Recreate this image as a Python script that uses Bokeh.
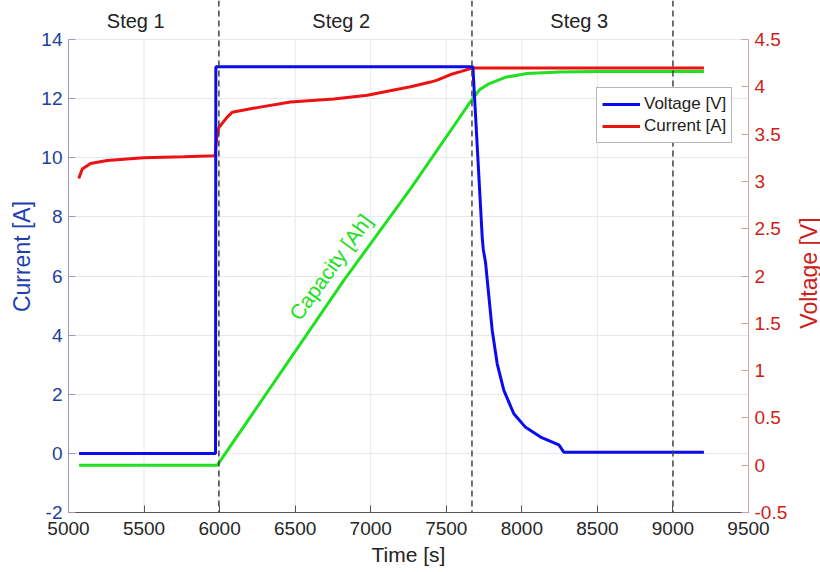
import math
from bokeh.plotting import figure
from bokeh.layouts import row
from bokeh.models import (Range1d, LinearAxis, FixedTicker, Span, Label, Legend,
                          LegendItem)
from bokeh.core.properties import value
from bokeh.embed import file_html
from bokeh.resources import INLINE

# ---------------- data ----------------
t_blue = [5070, 5973, 5975, 7676, 7738, 7745, 7760, 7782, 7804, 7837, 7881, 7947,
          8025, 8124, 8245, 8278, 9205]
y_blue = [0.0, 0.0, 13.08, 13.08, 7.3, 6.9, 6.45, 5.3, 4.16, 3.03, 2.13, 1.34,
          0.88, 0.55, 0.29, 0.04, 0.04]

t_red = [5068, 5091, 5146, 5256, 5498, 5763, 5970, 5980, 5995, 6050, 6083, 6249,
         6469, 6756, 6977, 7263, 7396, 7440, 7484, 7528, 7594, 7678, 9205]
v_red = [3.03, 3.13, 3.19, 3.22, 3.25, 3.26, 3.27, 3.45, 3.57, 3.68, 3.73, 3.78,
         3.84, 3.87, 3.91, 4.00, 4.05, 4.07, 4.10, 4.13, 4.16, 4.20, 4.20]

t_green = [5070, 5985, 6822, 7263, 7560, 7660, 7720, 7782, 7890, 8035, 8250, 8500, 9205]
c_green = [-0.4, -0.4, 5.85, 8.95, 11.15, 11.9, 12.3, 12.5, 12.72, 12.85, 12.9, 12.92, 12.92]

step_times = [5995, 7670, 9000]
step_names = ["Steg 1", "Steg 2", "Steg 3"]
step_label_x = [5445, 6805, 8380]

x_ticks = [5000, 5500, 6000, 6500, 7000, 7500, 8000, 8500, 9000, 9500]
left_ticks = [-2, 0, 2, 4, 6, 8, 10, 12, 14]
left_tick_labels = ["-2", "0", "2", "4", "6", "8", "10", "12", "14"]
right_ticks = [-0.5, 0, 0.5, 1, 1.5, 2, 2.5, 3, 3.5, 4, 4.5]
right_tick_labels = ["-0.5", "0", "0.5", "1", "1.5", "2", "2.5", "3", "3.5", "4", "4.5"]

# ---------------- figure ----------------
FONT = "Liberation Sans"
Y_TOP = 14 + 39 / 29.56           # frame extends above 14 into header area
V_TOP = 4.5 + (Y_TOP - 14) / 3.2

p = figure(width=790, height=572, x_range=Range1d(5000, 9500),
           y_range=Range1d(-2, Y_TOP), output_backend="svg",
           toolbar_location=None, min_border_left=68, min_border_right=42,
           min_border_top=0, min_border_bottom=60)
p.extra_y_ranges = {"v": Range1d(-0.5, V_TOP)}
p.outline_line_color = None
p.background_fill_color = "white"
p.border_fill_color = "white"

# grid: x lines drawn only between -2 and 14
p.xgrid.visible = False
p.segment(x0=x_ticks, y0=[-2] * len(x_ticks), x1=x_ticks, y1=[14] * len(x_ticks),
          line_color="#e3e9ee", line_width=1)
p.ygrid.ticker = FixedTicker(ticks=left_ticks)
p.ygrid.grid_line_color = "#e3e9ee"
p.ygrid.grid_line_width = 1

# x axis
xa = p.xaxis[0]
xa.ticker = FixedTicker(ticks=x_ticks)
xa.axis_label = "Time [s]"
xa.axis_label_text_font = FONT
xa.axis_label_text_font_size = "21px"
xa.axis_label_text_font_style = "normal"
xa.axis_label_text_color = "#222222"
xa.axis_label_standoff = 5
xa.major_label_text_font = FONT
xa.major_label_text_font_size = "19px"
xa.major_label_text_color = "#262626"
xa.major_label_standoff = 9
xa.axis_line_color = "#555555"
xa.major_tick_line_color = "#555555"
xa.major_tick_in = 7
xa.major_tick_out = 0
xa.minor_tick_line_color = None

# left axis
ya = p.yaxis[0]
ya.ticker = FixedTicker(ticks=left_ticks)
ya.bounds = (-2, 14)
ya.major_label_overrides = {t: s for t, s in zip(left_ticks, left_tick_labels)}
ya.axis_label = "Current [A]"
ya.axis_label_text_font = FONT
ya.axis_label_text_font_size = "23px"
ya.axis_label_text_font_style = "normal"
ya.axis_label_text_color = "#1f3fb0"
ya.axis_label_standoff = 3
ya.major_label_text_font = FONT
ya.major_label_text_font_size = "19px"
ya.major_label_text_color = "#213f9e"
ya.major_label_standoff = 6
ya.axis_line_color = "#9a9ab8"
ya.major_tick_line_color = "#9a9ab8"
ya.major_tick_in = 7
ya.major_tick_out = 0
ya.minor_tick_line_color = None

# right axis
ra = LinearAxis(y_range_name="v", ticker=FixedTicker(ticks=right_ticks))
ra.bounds = (-0.5, 4.5)
ra.major_label_overrides = {t: s for t, s in zip(right_ticks, right_tick_labels)}
ra.major_label_text_font = FONT
ra.major_label_text_font_size = "19px"
ra.major_label_text_color = "#cc1f1a"
ra.major_label_standoff = 6
ra.axis_line_color = "#d0a4a4"
ra.major_tick_line_color = "#d0a4a4"
ra.major_tick_in = 7
ra.major_tick_out = 0
ra.minor_tick_line_color = None
p.add_layout(ra, "right")

# ---------------- lines ----------------
g_line = p.line(t_green, c_green, line_color="#20e020", line_width=3)
r_line = p.line(t_red, v_red, line_color="#ee1111", line_width=3, y_range_name="v")
b_line = p.line(t_blue, y_blue, line_color="#0b0bf0", line_width=3)

# step separators
for t in step_times:
    p.add_layout(Span(location=t, dimension="height", line_color="#444444",
                      line_width=1.5, line_dash="6 4"))

for x, name in zip(step_label_x, step_names):
    p.add_layout(Label(x=x, y=14 + 19 / 29.56, text=name, text_align="center",
                       text_baseline="middle", text_font=FONT,
                       text_font_size="20px", text_color="#222222"))

# capacity label
p.add_layout(Label(x=6734, y=6.3, text="Capacity [Ah]", angle=54, angle_units="deg",
                   text_align="center", text_baseline="middle", text_font=FONT,
                   text_font_size="21px", text_color="#20e020"))

# legend
legend = Legend(items=[LegendItem(label="Voltage [V]", renderers=[b_line]),
                       LegendItem(label="Current [A]", renderers=[r_line])],
                location=(528, 369), orientation="vertical")
legend.label_text_font = FONT
legend.label_text_font_size = "17px"
legend.label_text_color = "#222222"
legend.glyph_width = 38
legend.glyph_height = 22
legend.label_standoff = 4
legend.label_height = 22
legend.padding = 5
legend.spacing = 0
legend.margin = 0
legend.border_line_color = "#707070"
legend.border_line_width = 1
legend.background_fill_color = "white"
legend.background_fill_alpha = 1.0
p.add_layout(legend)

# ---------------- right-axis title strip (reads bottom-to-top) ----------------
p2 = figure(width=30, height=572, x_range=Range1d(0, 30),
            y_range=Range1d(-2, Y_TOP), output_backend="svg",
            toolbar_location=None, min_border_left=0, min_border_right=0,
            min_border_top=0, min_border_bottom=60)
p2.axis.visible = False
p2.grid.visible = False
p2.outline_line_color = None
p2.border_fill_color = "white"
p2.background_fill_color = "white"
p2.text(x=[18], y=[6.1], text=["Voltage [V]"], angle=math.pi / 2,
        text_align="center", text_baseline="middle", text_font=value(FONT),
        text_font_size="23px", text_color="#cc2020")

layout = row(p, p2, spacing=0)
open("out.html", "w").write(file_html(layout, INLINE))
